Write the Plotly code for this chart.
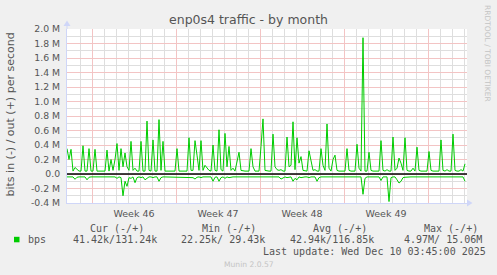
import pandas as pd
import plotly.graph_objects as go

# ---------------- data (values in Mbit/s) ----------------
start_time = "2025-11-06 22:00"
n_points = 200
step = "4h"

out_vals = [
    0.35, 0.20, 0.34, 0.04, 0.09, 0.06, 0.04, 0.04, 0.39, 0.04,
    0.04, 0.35, 0.04, 0.04, 0.34, 0.04, 0.04, 0.04, 0.04, 0.04,
    0.33, 0.04, 0.20, 0.05, 0.20, 0.42, 0.05, 0.35, 0.10, 0.29,
    0.10, 0.05, 0.45, 0.05, 0.08, 0.04, 0.04, 0.45, 0.04, 0.04,
    0.73, 0.05, 0.04, 0.47, 0.04, 0.04, 0.75, 0.05, 0.45, 0.04,
    0.04, 0.04, 0.04, 0.04, 0.04, 0.35, 0.04, 0.04, 0.04, 0.04,
    0.04, 0.50, 0.05, 0.05, 0.46, 0.26, 0.05, 0.46, 0.05, 0.12,
    0.08, 0.05, 0.04, 0.40, 0.05, 0.04, 0.61, 0.06, 0.04, 0.56,
    0.10, 0.38, 0.05, 0.08, 0.04, 0.15, 0.30, 0.05, 0.04, 0.04,
    0.04, 0.04, 0.35, 0.10, 0.04, 0.04, 0.04, 0.38, 0.76, 0.05,
    0.04, 0.04, 0.04, 0.55, 0.10, 0.06, 0.05, 0.06, 0.04, 0.04,
    0.51, 0.10, 0.12, 0.72, 0.06, 0.50, 0.15, 0.24, 0.05, 0.04,
    0.04, 0.32, 0.20, 0.05, 0.06, 0.04, 0.04, 0.35, 0.12, 0.05,
    0.69, 0.08, 0.04, 0.20, 0.26, 0.05, 0.04, 0.04, 0.04, 0.04,
    0.35, 0.05, 0.04, 0.04, 0.04, 0.41, 0.08, 0.04, 1.88, 0.04,
    0.04, 0.30, 0.05, 0.04, 0.04, 0.04, 0.04, 0.46, 0.05, 0.04,
    0.06, 0.04, 0.04, 0.51, 0.05, 0.08, 0.22, 0.15, 0.05, 0.50,
    0.05, 0.04, 0.04, 0.08, 0.04, 0.37, 0.05, 0.04, 0.04, 0.04,
    0.04, 0.31, 0.05, 0.04, 0.04, 0.04, 0.04, 0.47, 0.05, 0.04,
    0.06, 0.04, 0.04, 0.55, 0.05, 0.04, 0.04, 0.06, 0.04, 0.14,
]

in_vals = [
    -0.040, -0.040, -0.045, -0.040, -0.073, -0.045, -0.040, -0.040, -0.050, -0.040,
    -0.080, -0.045, -0.040, -0.040, -0.040, -0.040, -0.045, -0.040, -0.040, -0.040,
    -0.050, -0.040, -0.040, -0.045, -0.040, -0.060, -0.040, -0.050, -0.300, -0.100,
    -0.170, -0.050, -0.060, -0.040, -0.120, -0.050, -0.040, -0.050, -0.040, -0.080,
    -0.060, -0.040, -0.040, -0.050, -0.040, -0.040, -0.100, -0.050, -0.040, -0.040,
    -0.040, -0.040, -0.040, -0.040, -0.040, -0.045, -0.040, -0.040, -0.040, -0.040,
    -0.040, -0.050, -0.040, -0.050, -0.070, -0.045, -0.040, -0.050, -0.040, -0.040,
    -0.040, -0.040, -0.040, -0.100, -0.045, -0.040, -0.100, -0.050, -0.040, -0.060,
    -0.040, -0.050, -0.040, -0.040, -0.040, -0.040, -0.050, -0.040, -0.040, -0.040,
    -0.040, -0.040, -0.045, -0.040, -0.040, -0.040, -0.040, -0.040, -0.050, -0.040,
    -0.040, -0.040, -0.040, -0.050, -0.040, -0.040, -0.040, -0.070, -0.050, -0.040,
    -0.050, -0.040, -0.040, -0.100, -0.060, -0.080, -0.040, -0.050, -0.040, -0.040,
    -0.040, -0.050, -0.040, -0.040, -0.040, -0.100, -0.050, -0.040, -0.040, -0.040,
    -0.045, -0.040, -0.040, -0.040, -0.050, -0.040, -0.040, -0.040, -0.040, -0.040,
    -0.045, -0.040, -0.040, -0.040, -0.040, -0.050, -0.040, -0.040, -0.280, -0.060,
    -0.040, -0.040, -0.040, -0.040, -0.040, -0.040, -0.040, -0.090, -0.040, -0.040,
    -0.040, -0.380, -0.050, -0.040, -0.040, -0.080, -0.125, -0.100, -0.050, -0.045,
    -0.040, -0.040, -0.040, -0.040, -0.040, -0.040, -0.040, -0.040, -0.040, -0.040,
    -0.040, -0.045, -0.040, -0.040, -0.040, -0.040, -0.040, -0.050, -0.040, -0.040,
    -0.040, -0.040, -0.040, -0.050, -0.040, -0.040, -0.040, -0.040, -0.040, -0.100,
]

x_range = ["2025-11-06 22:00", "2025-12-10 06:00"]
week_starts = ["2025-11-09", "2025-11-16", "2025-11-23", "2025-11-30", "2025-12-07"]
week_mids = ["2025-11-12 12:00", "2025-11-19 12:00", "2025-11-26 12:00", "2025-12-03 12:00"]
week_labels = ["Week 46", "Week 47", "Week 48", "Week 49"]

y_ticks = [2.0, 1.8, 1.6, 1.4, 1.2, 1.0, 0.8, 0.6, 0.4, 0.2, 0.0, -0.2, -0.4]
y_tick_text = ["2.0 M", "1.8 M", "1.6 M", "1.4 M", "1.2 M", "1.0 M", "0.8 M",
               "0.6 M", "0.4 M", "0.2 M", "0.0", "-0.2 M", "-0.4 M"]

legend_headers = ["Cur (-/+)", "Min (-/+)", "Avg (-/+)", "Max (-/+)"]
legend_values = ["41.42k/131.24k", "22.25k/ 29.43k", "42.94k/116.85k", "4.97M/ 15.06M"]
series_name = "bps"
last_update = "Last update: Wed Dec 10 03:45:00 2025"
title_text = "enp0s4 traffic - by month"
y_title = "bits in (-) / out (+) per second"
side_text = "RRDTOOL / TOBI OETIKER"
footer = "Munin 2.0.57"

# ---------------- figure ----------------
W, H = 497, 275
L, R, T, B = 67, 30, 29, 72
PW, PH = W - L - R, H - T - B

def px(x):
    return (x - L) / PW

def py(y):
    return (H - B - y) / PH

times = pd.date_range(start_time, periods=n_points, freq=step)

GREEN = "#00CC00"
FONT = "#555555"
AXIS = "#CFD6F8"
MGRID = "#F3C4C4"
GRID = "#DEDEDE"
SANS = "DejaVu Sans"
MONO = "DejaVu Sans Mono"

fig = go.Figure()
fig.add_trace(go.Scatter(x=times, y=in_vals, mode="lines",
                         line=dict(color=GREEN, width=1), hoverinfo="skip", showlegend=False))
fig.add_trace(go.Scatter(x=times, y=out_vals, mode="lines",
                         line=dict(color=GREEN, width=1), hoverinfo="skip", showlegend=False))
# invisible carrier for the week-label axis
fig.add_trace(go.Scatter(x=week_mids, y=[None] * len(week_mids), xaxis="x2",
                         mode="lines", hoverinfo="skip", showlegend=False))

fig.update_layout(
    width=W, height=H,
    margin=dict(l=L, r=R, t=T, b=B),
    paper_bgcolor="#F0F0F0", plot_bgcolor="#FFFFFF",
    showlegend=False,
    title=dict(text=title_text, x=0.5, xanchor="center", xref="container",
               y=1 - 20 / H, yanchor="middle", yref="container",
               font=dict(family=SANS, size=12.5, color=FONT)),
    xaxis=dict(
        type="date", range=x_range, tickvals=week_starts,
        ticktext=[""] * len(week_starts),
        showgrid=True, gridcolor=MGRID, gridwidth=1,
        zeroline=False, ticks="",
        showline=True, linecolor=AXIS, linewidth=1,
        minor=dict(dtick=86400000, tick0="2025-11-09", showgrid=True,
                   gridcolor=GRID, gridwidth=1, ticks=""),
    ),
    xaxis2=dict(
        type="date", range=x_range, overlaying="x", anchor="y", side="bottom",
        tickvals=week_mids, ticktext=week_labels, showgrid=False, zeroline=False,
        showline=False, ticks="outside", ticklen=2, tickcolor="rgba(0,0,0,0)",
        tickfont=dict(family=SANS, size=9.5, color=FONT),
    ),
    yaxis=dict(
        range=[-0.4, 2.0], tickvals=y_ticks, ticktext=y_tick_text,
        showgrid=True, gridcolor=MGRID, gridwidth=1,
        zeroline=False, ticks="outside", ticklen=4, tickcolor="rgba(0,0,0,0)",
        tickfont=dict(family=SANS, size=9.3, color=FONT),
        showline=True, linecolor=AXIS, linewidth=1,
        minor=dict(dtick=0.1, tick0=0, showgrid=True, gridcolor=GRID,
                   gridwidth=1, ticks=""),
    ),
)

# zero rule
fig.add_shape(type="line", xref="paper", yref="y", x0=0, x1=1, y0=0, y1=0,
              line=dict(color="#000000", width=1.5), layer="above")

# axis extensions and arrows
fig.add_shape(type="line", xref="paper", yref="paper", x0=1, x1=px(470), y0=0, y1=0,
              line=dict(color=AXIS, width=1))
fig.add_shape(type="path", xref="paper", yref="paper",
              path=f"M {px(467)} {py(199.5)} L {px(472.5)} {py(203)} L {px(467)} {py(206.5)} Z",
              fillcolor=AXIS, line=dict(color=AXIS, width=0))
fig.add_shape(type="line", xref="paper", yref="paper", x0=0, x1=0, y0=1, y1=py(24),
              line=dict(color=AXIS, width=1))
fig.add_shape(type="path", xref="paper", yref="paper",
              path=f"M {px(63.5)} {py(26)} L {px(67)} {py(20.5)} L {px(70.5)} {py(26)} Z",
              fillcolor=AXIS, line=dict(color=AXIS, width=0))

# legend colour box
fig.add_shape(type="rect", xref="paper", yref="paper",
              x0=px(14), x1=px(19.5), y0=py(242.3), y1=py(236.8),
              fillcolor=GREEN, line=dict(width=0))

ann = []
def text(x, y, s, size, family, color=FONT, anchor="left", angle=0):
    ann.append(dict(x=px(x), y=py(y), xref="paper", yref="paper", text=s,
                    showarrow=False, xanchor=anchor, yanchor="middle",
                    textangle=angle, borderpad=0,
                    font=dict(family=family, size=size, color=color)))

text(10.5, 115, y_title, 11, SANS, anchor="center", angle=-90)
text(488, 53, side_text, 7.5, SANS, color="#C4C4C4", anchor="center", angle=90)

header_x = [89, 201, 312, 423]
value_x = [72, 180, 289, 403]
for hx, h in zip(header_x, legend_headers):
    text(hx, 228, h, 10, MONO)
text(27, 239.7, series_name, 10, MONO)
for vx, v in zip(value_x, legend_values):
    text(vx, 239.7, v, 10, MONO)
text(262, 251.3, last_update, 10, MONO)
text(223, 264, footer, 7.6, SANS, color="#C4C4C4")

fig.update_layout(annotations=ann)
fig.write_html("out.html")
